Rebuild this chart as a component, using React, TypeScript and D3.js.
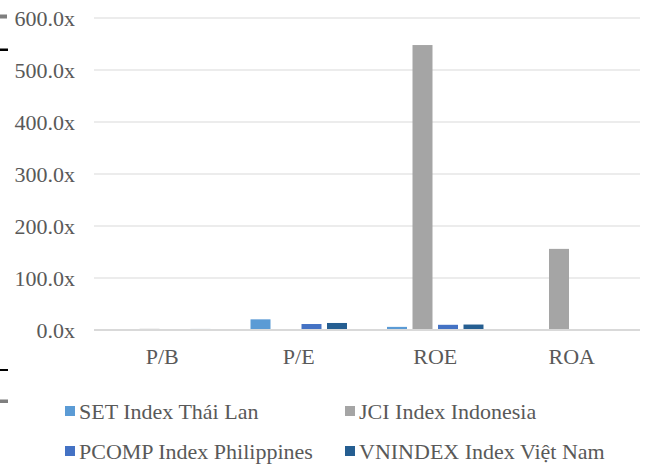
import React, { useEffect, useRef } from "react";
import * as d3 from "d3";

const categories = ["P/B", "P/E", "ROE", "ROA"];
const seriesNames = [
  "SET Index Thái Lan",
  "JCI Index Indonesia",
  "PCOMP Index Philippines",
  "VNINDEX Index Việt Nam",
];
const setValues = [1.8, 20.5, 6.0, 1.0];
const jciValues = [2.2, 0.0, 548.0, 156.0];
const pcompValues = [1.7, 11.5, 10.0, 1.8];
const vnValues = [2.0, 13.5, 10.5, 1.2];
const yTicks = [0, 100, 200, 300, 400, 500, 600];
const colors = ["#5b9bd5", "#a5a5a5", "#4472c4", "#255e91"];

const W = 650;
const H = 468;

export default function App() {
  const ref = useRef<SVGSVGElement>(null);

  useEffect(() => {
    const svg = d3.select(ref.current);
    svg.selectAll("*").remove();

    const allValues = [setValues, jciValues, pcompValues, vnValues];
    const font = "Liberation Serif, DejaVu Serif, serif";

    const x0 = d3.scaleBand().domain(categories).range([94, 640]);
    const x1 = d3
      .scaleBand()
      .domain(seriesNames)
      .range([0, x0.bandwidth()])
      .paddingInner(0.216)
      .paddingOuter(0.785);
    const y = d3.scaleLinear().domain([0, 600]).range([330, 18]);

    // gridlines
    svg
      .append("g")
      .selectAll("line")
      .data(yTicks.filter((t) => t > 0))
      .enter()
      .append("line")
      .attr("x1", 94)
      .attr("x2", 640)
      .attr("y1", (d) => y(d))
      .attr("y2", (d) => y(d))
      .attr("stroke", "#d9d9d9")
      .attr("stroke-width", 1.2);

    // y labels
    svg
      .append("g")
      .selectAll("text")
      .data(yTicks)
      .enter()
      .append("text")
      .attr("x", 75)
      .attr("y", (d) => y(d))
      .attr("dy", "0.35em")
      .attr("text-anchor", "end")
      .style("font-family", font)
      .attr("font-size", 22)
      .attr("fill", "#595959")
      .text((d) => d3.format(".1f")(d) + "x");

    // bars
    const groups = svg
      .append("g")
      .selectAll("g")
      .data(categories)
      .enter()
      .append("g")
      .attr("transform", (d) => `translate(${x0(d)},0)`);

    groups
      .selectAll("rect")
      .data((d, i) => seriesNames.map((s, j) => ({ s, j, v: allValues[j][i] })))
      .enter()
      .append("rect")
      .attr("x", (d) => x1(d.s)!)
      .attr("width", x1.bandwidth())
      .attr("y", (d) => y(d.v))
      .attr("height", (d) => y(0) - y(d.v))
      .attr("fill", (d) => colors[d.j]);

    // baseline
    svg
      .append("line")
      .attr("x1", 94)
      .attr("x2", 640)
      .attr("y1", y(0))
      .attr("y2", y(0))
      .attr("stroke", "#d9d9d9")
      .attr("stroke-width", 2);

    // x labels
    svg
      .append("g")
      .selectAll("text")
      .data(categories)
      .enter()
      .append("text")
      .attr("x", (d) => x0(d)! + x0.bandwidth() / 2)
      .attr("y", 364)
      .attr("text-anchor", "middle")
      .style("font-family", font)
      .attr("font-size", 22)
      .attr("fill", "#595959")
      .text((d) => d);

    // legend
    const legendPos = [
      [65, 411],
      [345, 411],
      [65, 451],
      [345, 451],
    ];
    const legend = svg
      .append("g")
      .selectAll("g")
      .data(seriesNames)
      .enter()
      .append("g")
      .attr("transform", (d, i) => `translate(${legendPos[i][0]},${legendPos[i][1]})`);
    legend
      .append("rect")
      .attr("x", 0)
      .attr("y", -5)
      .attr("width", 10)
      .attr("height", 10)
      .attr("fill", (d, i) => colors[i]);
    legend
      .append("text")
      .attr("x", 14)
      .attr("dy", "0.35em")
      .style("font-family", font)
      .attr("font-size", 22)
      .attr("fill", "#595959")
      .text((d) => d);

    // little marks on the left edge
    const marks = [
      [14.5, 4, "#7f7f7f", 7],
      [48.5, 2.5, "#000000", 8],
      [369, 2, "#000000", 8],
      [399.5, 3.5, "#7f7f7f", 8],
    ];
    svg
      .append("g")
      .selectAll("rect")
      .data(marks)
      .enter()
      .append("rect")
      .attr("x", 0)
      .attr("y", (d) => d[0] as number)
      .attr("height", (d) => d[1] as number)
      .attr("width", (d) => d[3] as number)
      .attr("fill", (d) => d[2] as string);
  }, []);

  return (
    <svg
      ref={ref}
      width={W}
      height={H}
      viewBox={`0 0 ${W} ${H}`}
      style={{ position: "absolute", left: 0, top: 0, background: "#fff" }}
    />
  );
}
